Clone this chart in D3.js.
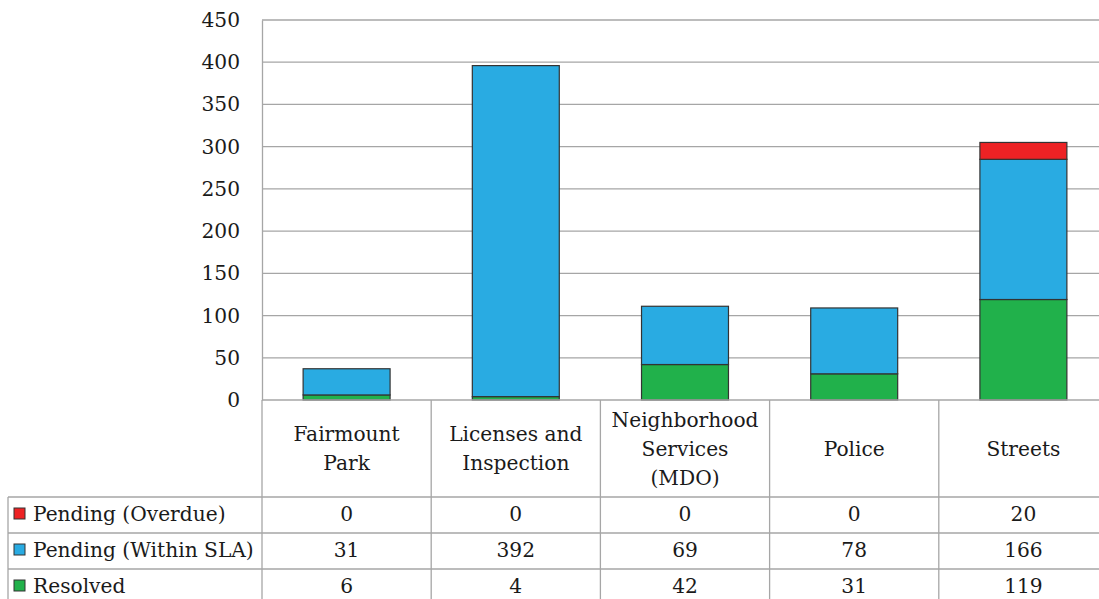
<!DOCTYPE html>
<html>
<head>
<meta charset="utf-8">
<script src="https://cdn.jsdelivr.net/npm/d3@7"></script>
<style>
  body { margin: 0; background: #fff; }
  text { font-family: "DejaVu Serif", serif; fill: #1a1a1a; }
</style>
</head>
<body>
<div id="chart"></div>
<script>
// datos del grafico
var categorias = [["Fairmount", "Park"], ["Licenses and", "Inspection"], ["Neighborhood", "Services", "(MDO)"], ["Police"], ["Streets"]];
var series = ["Pending (Overdue)", "Pending (Within SLA)", "Resolved"];
var overdue = [0, 0, 0, 0, 20];
var withinSLA = [31, 392, 69, 78, 166];
var resolved = [6, 4, 42, 31, 119];
var yTicks = [0, 50, 100, 150, 200, 250, 300, 350, 400, 450];
var colores = { "Pending (Overdue)": "#ed2224", "Pending (Within SLA)": "#29abe2", "Resolved": "#21b14b" };

var ancho = 1099, alto = 599;
var izq = 262, arriba = 20, abajo = 400, derecha = 1108;
var filas = [497, 533, 569, 605];
var fs = 20.2;

var svg = d3.select("#chart").append("svg").attr("width", ancho).attr("height", alto);

var nombres = categorias.map(function (d) { return d.join(" "); });
var x = d3.scaleBand().domain(nombres).range([izq, derecha]).padding(0);
var y = d3.scaleLinear().domain([0, 450]).range([abajo, arriba]);

// lineas de la grilla
svg.append("g").selectAll("line").data(yTicks.slice(1)).enter().append("line")
  .attr("x1", izq).attr("x2", ancho)
  .attr("y1", function (d) { return y(d); }).attr("y2", function (d) { return y(d); })
  .attr("stroke", "#a6a6a6").attr("stroke-width", 1.3);

// eje y
var ejeY = svg.append("g").attr("transform", "translate(" + izq + ",0)")
  .call(d3.axisLeft(y).tickValues(yTicks).tickSize(0).tickPadding(22));
ejeY.select(".domain").attr("stroke", "#a6a6a6").attr("stroke-width", 1.3);
ejeY.selectAll("text").style("font-size", fs + "px").attr("fill", "#1a1a1a")
  .style("font-family", "DejaVu Serif, serif");

// barras apiladas
var tabla = nombres.map(function (n, i) {
  return { cat: n, "Resolved": resolved[i], "Pending (Within SLA)": withinSLA[i], "Pending (Overdue)": overdue[i] };
});
var pila = d3.stack().keys(["Resolved", "Pending (Within SLA)", "Pending (Overdue)"])(tabla);
var anchoBarra = x.bandwidth() * 0.514;

svg.append("g").selectAll("g").data(pila).enter().append("g")
  .attr("fill", function (d) { return colores[d.key]; })
  .selectAll("rect").data(function (d) { return d.filter(function (e) { return e[1] - e[0] > 0; }); })
  .enter().append("rect")
  .attr("x", function (d) { return x(d.data.cat) + (x.bandwidth() - anchoBarra) / 2; })
  .attr("width", anchoBarra)
  .attr("y", function (d) { return y(d[1]); })
  .attr("height", function (d) { return y(d[0]) - y(d[1]); })
  .attr("stroke", "#333").attr("stroke-width", 1.2);

// tabla de datos
var gris = "#a6a6a6";
var t = svg.append("g");
// eje x (linea base)
t.append("line").attr("x1", izq).attr("x2", ancho).attr("y1", abajo).attr("y2", abajo)
  .attr("stroke", gris).attr("stroke-width", 1.5);
// lineas verticales de columnas
x.domain().forEach(function (c) {
  t.append("line").attr("x1", x(c)).attr("x2", x(c)).attr("y1", abajo).attr("y2", alto)
    .attr("stroke", gris).attr("stroke-width", 1.3);
});
// lineas horizontales de filas
filas.slice(0, 3).forEach(function (f) {
  t.append("line").attr("x1", 8).attr("x2", ancho).attr("y1", f).attr("y2", f)
    .attr("stroke", gris).attr("stroke-width", 1.3);
});
t.append("line").attr("x1", 8).attr("x2", 8).attr("y1", filas[0]).attr("y2", alto)
  .attr("stroke", gris).attr("stroke-width", 1.3);

// encabezados de categorias
categorias.forEach(function (lineas, i) {
  var cx = x(nombres[i]) + x.bandwidth() / 2;
  var medio = (abajo + filas[0]) / 2;
  var alt = 29;
  lineas.forEach(function (l, j) {
    t.append("text").attr("x", cx).attr("y", medio + (j - (lineas.length - 1) / 2) * alt)
      .attr("text-anchor", "middle").attr("dominant-baseline", "central")
      .style("font-size", fs + "px").text(l);
  });
});

// filas de series
var valores = [overdue, withinSLA, resolved];
series.forEach(function (s, k) {
  var cy = (filas[k] + filas[k + 1]) / 2 - 1;
  t.append("rect").attr("x", 14).attr("y", cy - 6).attr("width", 11).attr("height", 11)
    .attr("fill", colores[s]).attr("stroke", "#333").attr("stroke-width", 1);
  t.append("text").attr("x", 33).attr("y", cy).attr("dominant-baseline", "central")
    .style("font-size", fs + "px").text(s);
  valores[k].forEach(function (v, i) {
    t.append("text").attr("x", x(nombres[i]) + x.bandwidth() / 2).attr("y", cy)
      .attr("text-anchor", "middle").attr("dominant-baseline", "central")
      .style("font-size", fs + "px").text(v);
  });
});
</script>
</body>
</html>
